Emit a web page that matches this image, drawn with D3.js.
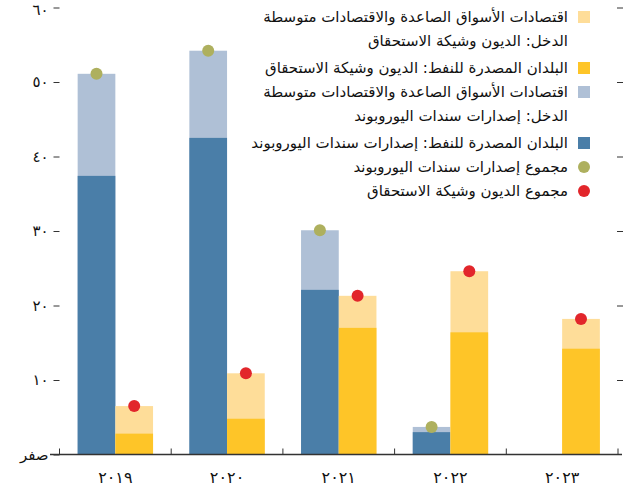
<!DOCTYPE html>
<html>
  <head>
    <meta charset="utf-8">
    <script src="https://cdn.jsdelivr.net/npm/d3@7"></script>
<style>
body { margin: 0; background: #fff; }
text { font-family: "DejaVu Sans", sans-serif; fill: #111; }
</style>
  </head>
  <body>
    <svg></svg>
    <script>
      var years = ["٢٠١٩", "٢٠٢٠", "٢٠٢١", "٢٠٢٢", "٢٠٢٣"];
      // eurobond issuance: oil exporters part and total
      var oilEuro = [37.4, 42.5, 22.1, 3.0, 0];
      var euroTotal = [51.1, 54.2, 30.1, 3.7, null];
      // maturing debt: oil exporters part and total
      var oilDebt = [2.8, 4.8, 17.0, 16.4, 14.2];
      var debtTotal = [6.5, 10.9, 21.3, 24.6, 18.2];
      var yTicks = [0, 10, 20, 30, 40, 50, 60];
      var yTickLabels = ["صفر", "١٠", "٢٠", "٣٠", "٤٠", "٥٠", "٦٠"];
      var legendItems = [
        {lines: ["اقتصادات الأسواق الصاعدة والاقتصادات متوسطة", "الدخل: الديون وشيكة الاستحقاق"], color: "#fedd99", shape: "rect"},
        {lines: ["البلدان المصدرة للنفط: الديون وشيكة الاستحقاق"], color: "#fec528", shape: "rect"},
        {lines: ["اقتصادات الأسواق الصاعدة والاقتصادات متوسطة", "الدخل: إصدارات سندات اليوروبوند"], color: "#afc0d6", shape: "rect"},
        {lines: ["البلدان المصدرة للنفط: إصدارات سندات اليوروبوند"], color: "#4a7ea8", shape: "rect"},
        {lines: ["مجموع إصدارات سندات اليوروبوند"], color: "#aeb05e", shape: "circle"},
        {lines: ["مجموع الديون وشيكة الاستحقاق"], color: "#e2262b", shape: "circle"}
      ];

      var width = 644, height = 496;
      var svg = d3.select("svg").attr("width", width).attr("height", height);

      var x = d3.scaleBand().domain(years).range([59.5, 618]);
      var barW = 37.7;
      var y = d3.scaleLinear().domain([0, 60]).range([454.5, 7.5]);

      var g = svg.append("g");
      years.forEach(function(yr, i){
        var cx = x(yr) + x.bandwidth() / 2;
        // eurobond bar (left)
        if (euroTotal[i] != null) {
          g.append("rect").attr("x", cx - barW).attr("width", barW)
            .attr("y", y(euroTotal[i])).attr("height", y(0) - y(euroTotal[i]))
            .attr("fill", "#afc0d6");
          g.append("rect").attr("x", cx - barW).attr("width", barW)
            .attr("y", y(oilEuro[i])).attr("height", y(0) - y(oilEuro[i]))
            .attr("fill", "#4a7ea8");
        }
        // maturing debt bar (right)
        g.append("rect").attr("x", cx).attr("width", barW)
          .attr("y", y(debtTotal[i])).attr("height", y(0) - y(debtTotal[i]))
          .attr("fill", "#fedd99");
        g.append("rect").attr("x", cx).attr("width", barW)
          .attr("y", y(oilDebt[i])).attr("height", y(0) - y(oilDebt[i]))
          .attr("fill", "#fec528");
      });
      years.forEach(function(yr, i){
        var cx = x(yr) + x.bandwidth() / 2;
        if (euroTotal[i] != null) {
          g.append("circle").attr("cx", cx - barW / 2).attr("cy", y(euroTotal[i])).attr("r", 6).attr("fill", "#aeb05e");
        }
        g.append("circle").attr("cx", cx + barW / 2).attr("cy", y(debtTotal[i])).attr("r", 6).attr("fill", "#e2262b");
      });

      // left axis
      var yAxis = d3.axisLeft(y).tickValues(yTicks).tickSize(6).tickPadding(5)
        .tickFormat(function(d, i){ return yTickLabels[i]; });
      var ga = svg.append("g").attr("transform", "translate(59.5,0)").call(yAxis);
      ga.select(".domain").remove();
      ga.selectAll("line").attr("stroke", "#333");
      ga.selectAll("text").attr("font-size", 15).attr("font-family", "DejaVu Sans").attr("fill", "#111")
        .attr("dy", function(d){ return d == 60 ? "0.45em" : "0.32em"; })
        .attr("letter-spacing", function(d){ return d == 0 ? 0 : 2; });

      // right tick marks
      var yRight = d3.axisRight(y).tickValues(yTicks.slice(1)).tickSize(6).tickFormat("");
      var gr = svg.append("g").attr("transform", "translate(617,0)").call(yRight);
      gr.select(".domain").remove();
      gr.selectAll("line").attr("stroke", "#333");

      // x axis
      svg.append("line").attr("x1", 50).attr("x2", 622).attr("y1", y(0)).attr("y2", y(0))
        .attr("stroke", "#333").attr("stroke-width", 1.5);
      var bounds = years.map(function(d){ return x(d); }).concat([x.range()[1]]);
      svg.selectAll(".xtick").data(bounds).enter().append("line")
        .attr("x1", function(d){ return d; }).attr("x2", function(d){ return d; })
        .attr("y1", y(0)).attr("y2", y(0) - 6).attr("stroke", "#333");
      svg.selectAll(".xlab").data(years).enter().append("text")
        .attr("x", function(d){ return x(d) + x.bandwidth() / 2; })
        .attr("y", 483).attr("text-anchor", "middle").attr("font-size", 16)
        .attr("letter-spacing", 3)
        .text(function(d){ return d; });

      // legend
      var ly = 17;
      legendItems.forEach(function(item){
        var lg = svg.append("g");
        if (item.shape == "rect") {
          lg.append("rect").attr("x", 578).attr("y", ly - 6).attr("width", 12).attr("height", 12).attr("fill", item.color);
        } else {
          lg.append("circle").attr("cx", 584).attr("cy", ly).attr("r", 6).attr("fill", item.color);
        }
        item.lines.forEach(function(t, j){
          lg.append("text").attr("x", 568).attr("y", ly + 5 + j * 24)
            .attr("direction", "rtl").attr("text-anchor", "start")
            .attr("font-size", 15).text(t);
        });
        ly += item.lines.length * 24 + (item.lines.length > 1 ? 3 : 0);
      });
    </script>
  </body>
</html>
